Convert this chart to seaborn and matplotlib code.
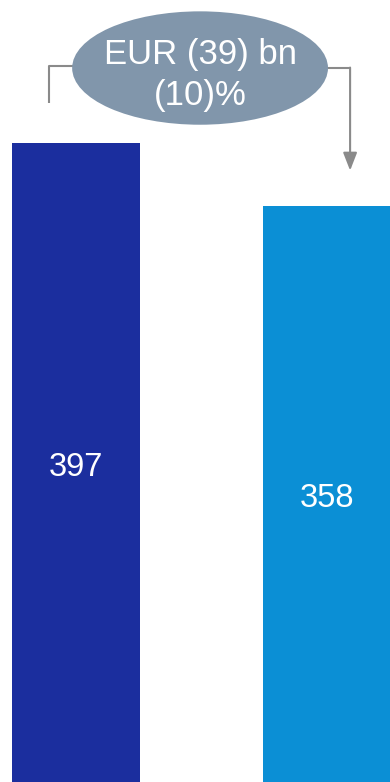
import matplotlib
matplotlib.use("Agg")
import matplotlib.pyplot as plt
from matplotlib.patches import Ellipse
import pandas as pd
import seaborn as sns

# Revenue, EUR bn
periods = ["Before", "After"]
values = [397, 358]
bar_colors = ["#1b2e9e", "#0b8fd5"]

sns.set_theme(style="white")
plt.rcParams["font.family"] = ["Liberation Sans", "DejaVu Sans"]

df = pd.DataFrame({"period": periods, "value": values})

fig = plt.figure(figsize=(3.9, 7.82), dpi=100)
ax = fig.add_axes([0, 0, 1, 1])

sns.barplot(data=df, x="period", y="value", hue="period",
            palette=bar_colors, width=0.51, legend=False, ax=ax,
            saturation=1, linewidth=0)

ax.set_xlim(-0.303, 1.251)
ax.set_ylim(0, 486)
ax.axis("off")

# Value labels inside the bars
for i, v in enumerate(values):
    ax.text(i, v / 2 - 3, f"{v}", ha="center", va="center",
            color="white", fontsize=23.5)

# Change bracket between the two bars
diff = values[1] - values[0]
pct = round(diff / values[0] * 100)
fmt = lambda n: f"({abs(n)})" if n < 0 else f"{n}"
change_label = f"EUR {fmt(diff)} bn\n{fmt(pct)}%"

line_kw = dict(color="#8a8a8a", lw=1.5, solid_capstyle="butt")
bracket_y = 445
x_left, x_right = -0.108, 1.092
ax.plot([x_left, x_left, 0.3], [values[0] + 25, bracket_y, bracket_y], **line_kw)
ax.plot([0.7, x_right], [bracket_y - 1, bracket_y - 1], **line_kw)
ax.annotate("", xy=(x_right, values[1] + 22), xytext=(x_right, bracket_y - 1),
            arrowprops=dict(arrowstyle="-|>,head_length=0.9,head_width=0.35",
                            color="#8a8a8a", lw=1.5, shrinkA=0, shrinkB=0))

bubble = Ellipse((0.513, 0.913), 0.656, 0.145, transform=ax.transAxes,
                 facecolor="#8196ab", edgecolor="none", zorder=5)
ax.add_patch(bubble)
ax.text(0.513, 0.904, change_label, transform=ax.transAxes, ha="center",
        va="center", color="white", fontsize=25, linespacing=1.3, zorder=6)

fig.savefig("out.png", dpi=100)
